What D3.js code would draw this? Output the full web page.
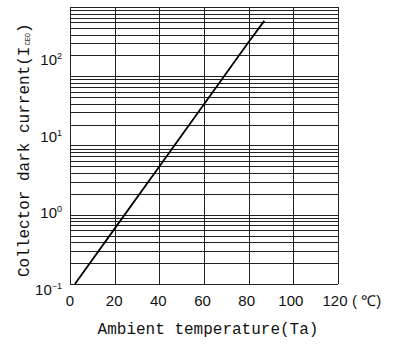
<!DOCTYPE html>
<html>
<head>
<meta charset="utf-8">
<script src="https://cdn.jsdelivr.net/npm/d3@7"></script>
<style>
  body { margin: 0; background: #fff; }
  .grid line { stroke: #222; stroke-width: 1; shape-rendering: crispEdges; }
  .tick-label { font-family: "Liberation Sans", Arial, sans-serif; font-size: 15px; fill: #111; }
  .title { font-family: "Liberation Mono", "DejaVu Sans Mono", monospace; font-size: 16px; fill: #111; }
</style>
</head>
<body>
<div class="container"></div>
<script>
// temperature (degC) vs collector dark current
var tempC = [2.2, 20, 40, 60, 80, 87];
var darkCurrent = [0.1, 0.63, 4.97, 39.5, 312, 631];

var xTicks = [0, 20, 40, 60, 80, 100, 120];
var yExponents = [-1, 0, 1, 2];

var WIDTH = 395, HEIGHT = 345;
var LEFT = 70, RIGHT = 338, TOP = 7, BOTTOM = 284;

var svg = d3.select('.container').append('svg')
    .attr('width', WIDTH)
    .attr('height', HEIGHT);

var xScale = d3.scaleLinear()
    .domain([0, 120])
    .range([LEFT, RIGHT]);

var yScale = d3.scaleLog()
    .domain([0.1, 1000])
    .range([BOTTOM, TOP]);

// the decade labels in the original sit a bit apart from the grid decades
var yLabelScale = d3.scaleLog()
    .domain([0.1, 100])
    .range([289, 59]);

var grid = svg.append('g').attr('class', 'grid');

grid.selectAll('line.h').data(yScale.ticks())
    .enter()
    .append('line')
    .attr('class', 'h')
    .attr('x1', LEFT).attr('x2', RIGHT)
    .attr('y1', function(d) { return Math.round(yScale(d)) + 0.5; })
    .attr('y2', function(d) { return Math.round(yScale(d)) + 0.5; });

grid.selectAll('line.v').data(xTicks)
    .enter()
    .append('line')
    .attr('class', 'v')
    .attr('y1', TOP).attr('y2', BOTTOM)
    .attr('x1', function(d) { return Math.round(xScale(d)) + 0.5; })
    .attr('x2', function(d) { return Math.round(xScale(d)) + 0.5; });

var line = d3.line()
    .x(function(d, i) { return xScale(tempC[i]); })
    .y(function(d) { return yScale(d); });

svg.append('path')
    .datum(darkCurrent)
    .attr('d', line)
    .attr('fill', 'none')
    .attr('stroke', '#000')
    .attr('stroke-width', 1.8);

// x tick labels
svg.selectAll('text.xt').data(xTicks)
    .enter()
    .append('text')
    .attr('class', 'tick-label')
    .attr('x', function(d) { return xScale(d) - (d / 120) * 3; })
    .attr('y', 306)
    .attr('text-anchor', 'middle')
    .text(function(d) { return d; });

svg.append('text')
    .attr('class', 'tick-label')
    .attr('x', 352)
    .attr('y', 306)
    .text('( ℃)');

// y tick labels 10^n
var yLab = svg.selectAll('text.yt').data(yExponents)
    .enter()
    .append('text')
    .attr('class', 'tick-label')
    .attr('x', 62)
    .attr('y', function(d) { return yLabelScale(Math.pow(10, d)) + 6; })
    .attr('text-anchor', 'end');
yLab.append('tspan').text('10');
yLab.append('tspan')
    .attr('dy', -6)
    .style('font-size', '9px')
    .text(function(d) { return d < 0 ? '\u2212' + (-d) : d; });

// axis titles
svg.append('text')
    .attr('class', 'title')
    .attr('x', (xScale(0) + xScale(120)) / 2 + 4)
    .attr('y', 334)
    .attr('text-anchor', 'middle')
    .text('Ambient temperature(Ta)');

var yTitle = svg.append('text')
    .attr('class', 'title')
    .attr('transform', 'translate(29,277) rotate(-90)');
yTitle.append('tspan').text('Collector dark current(I');
yTitle.append('tspan').attr('dy', 1).attr('dx', 1).style('font-size', '7px').text('CEO');
yTitle.append('tspan').attr('dy', -1).text(')');
</script>
</body>
</html>
